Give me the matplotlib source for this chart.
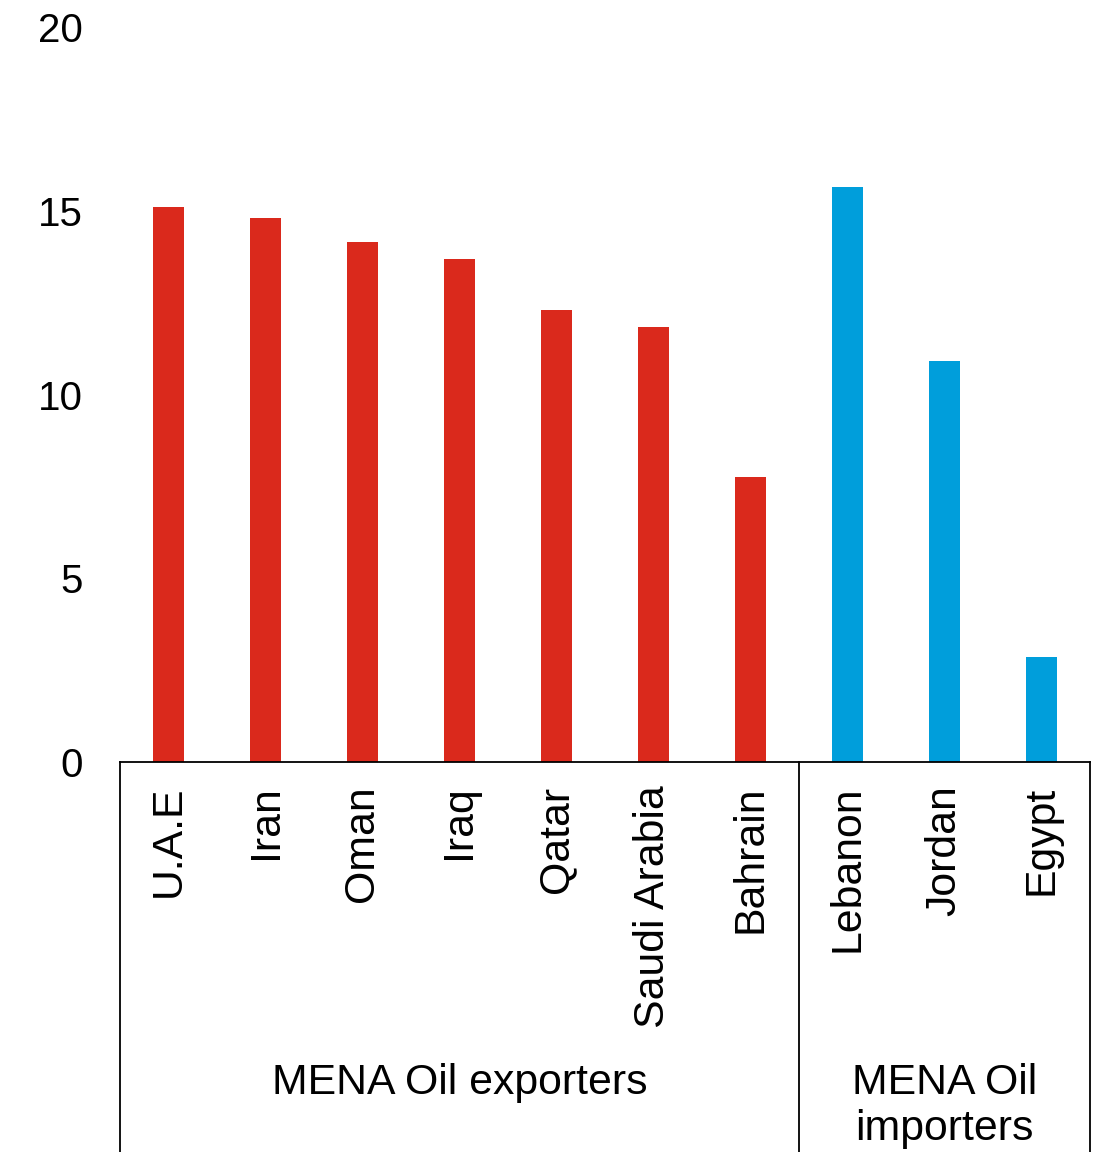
import matplotlib.pyplot as plt
import matplotlib.transforms as mtransforms

plt.rcParams['font.family'] = ['Liberation Sans', 'DejaVu Sans']

countries = ["U.A.E", "Iran", "Oman", "Iraq", "Qatar", "Saudi Arabia", "Bahrain",
             "Lebanon", "Jordan", "Egypt"]
values = [15.1, 14.8, 14.15, 13.7, 12.3, 11.85, 7.75, 15.65, 10.9, 2.85]
groups = ["MENA Oil exporters", "MENA Oil\nimporters"]
group_sizes = [7, 3]
group_colors = ["#DA291C", "#009EDB"]

fig = plt.figure(figsize=(11.04, 11.52), dpi=100)
ax = fig.add_axes([0.1087, 0.3385, 0.8786, 0.6381])

colors = []
for size, c in zip(group_sizes, group_colors):
    colors += [c] * size

x = list(range(len(countries)))
ax.bar(x, values, width=0.31, color=colors)

ax.set_xlim(-0.5, len(countries) - 0.5)
ax.set_ylim(0, 20)
ax.set_yticks([0, 5, 10, 15, 20])
ax.tick_params(axis='y', length=0, pad=27, labelsize=29)
ax.set_xticks(x)
ax.set_xticklabels(countries, rotation=90, fontsize=30.8)
ax.tick_params(axis='x', length=0, pad=17)

for side in ['left', 'right', 'top']:
    ax.spines[side].set_visible(False)
ax.spines['bottom'].set_linewidth(1.3)

# group separators running down below the axis
trans = mtransforms.blended_transform_factory(ax.transData, ax.transAxes)
edges = [-0.5]
for size in group_sizes:
    edges.append(edges[-1] + size)
for e in edges:
    ax.plot([e, e], [0, -0.6], transform=trans, color='black', lw=1.3, clip_on=False)

for i, g in enumerate(groups):
    mid = (edges[i] + edges[i + 1]) / 2
    ax.text(mid, -0.409, g, transform=trans, ha='center', va='top', fontsize=30.8,
            linespacing=1.2)

fig.savefig("out.png", dpi=100)
